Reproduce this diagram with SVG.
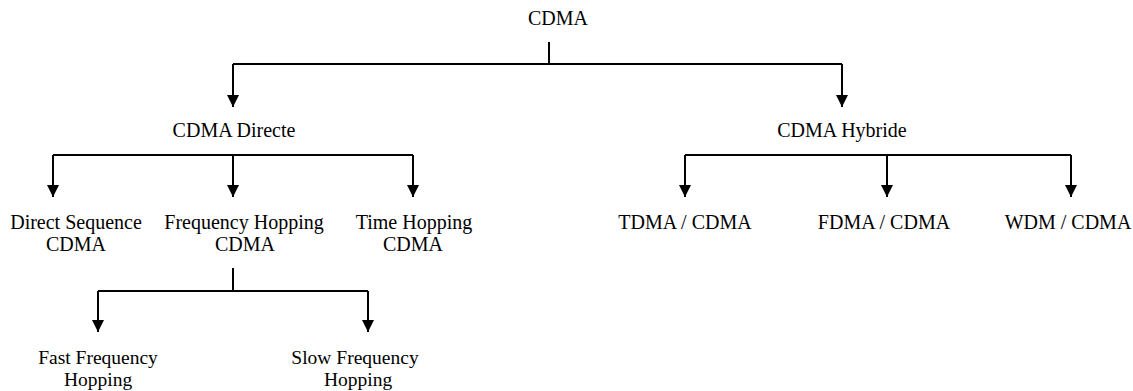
<svg xmlns="http://www.w3.org/2000/svg" width="1133" height="391" viewBox="0 0 1133 391">
<style>
text{font-family:"Liberation Serif","Times New Roman",serif;font-size:20px;fill:#000;text-anchor:middle}
.c{fill:none;stroke:#000;stroke-width:2}
</style>
<defs>
<marker id="ah" markerUnits="userSpaceOnUse" markerWidth="12" markerHeight="12" refX="12" refY="6" orient="auto">
<path d="M0,0 L12,6 L0,12 z" fill="#000"/>
</marker>
</defs>
<rect width="1133" height="391" fill="#fff"/>
<g id="connectors">
<path class="c" d="M549,42 V64"/>
<path class="c" d="M233,64 H842"/>
<path class="c" d="M233,64 V107" marker-end="url(#ah)"/>
<path class="c" d="M842,64 V107" marker-end="url(#ah)"/>
<path class="c" d="M53,155 H413"/>
<path class="c" d="M53,155 V197" marker-end="url(#ah)"/>
<path class="c" d="M233,155 V197" marker-end="url(#ah)"/>
<path class="c" d="M413,155 V197" marker-end="url(#ah)"/>
<path class="c" d="M685,155 H1071"/>
<path class="c" d="M685,155 V197" marker-end="url(#ah)"/>
<path class="c" d="M887,155 V197" marker-end="url(#ah)"/>
<path class="c" d="M1071,155 V197" marker-end="url(#ah)"/>
<path class="c" d="M233,268 V291"/>
<path class="c" d="M98,291 H368"/>
<path class="c" d="M98,291 V332" marker-end="url(#ah)"/>
<path class="c" d="M368,291 V332" marker-end="url(#ah)"/>
</g>
<g id="cdma"><text x="558" y="25">CDMA</text></g>
<g id="cdma-directe"><text x="234" y="137">CDMA Directe</text></g>
<g id="cdma-hybride"><text x="842" y="137">CDMA Hybride</text></g>
<g id="ds-cdma"><text x="76" y="229">Direct Sequence</text><text x="76" y="251">CDMA</text></g>
<g id="fh-cdma"><text x="244" y="229">Frequency Hopping</text><text x="245" y="251">CDMA</text></g>
<g id="th-cdma"><text x="414" y="229">Time Hopping</text><text x="413" y="251">CDMA</text></g>
<g id="tdma-cdma"><text x="685" y="229">TDMA / CDMA</text></g>
<g id="fdma-cdma"><text x="884" y="229">FDMA / CDMA</text></g>
<g id="wdm-cdma"><text x="1068" y="229">WDM / CDMA</text></g>
<g id="ffh"><text x="98" y="364" style="font-size:19.5px">Fast Frequency</text><text x="98" y="386" style="font-size:19.5px">Hopping</text></g>
<g id="sfh"><text x="355" y="364" style="font-size:19.5px">Slow Frequency</text><text x="358" y="386" style="font-size:19.5px">Hopping</text></g>
</svg>
